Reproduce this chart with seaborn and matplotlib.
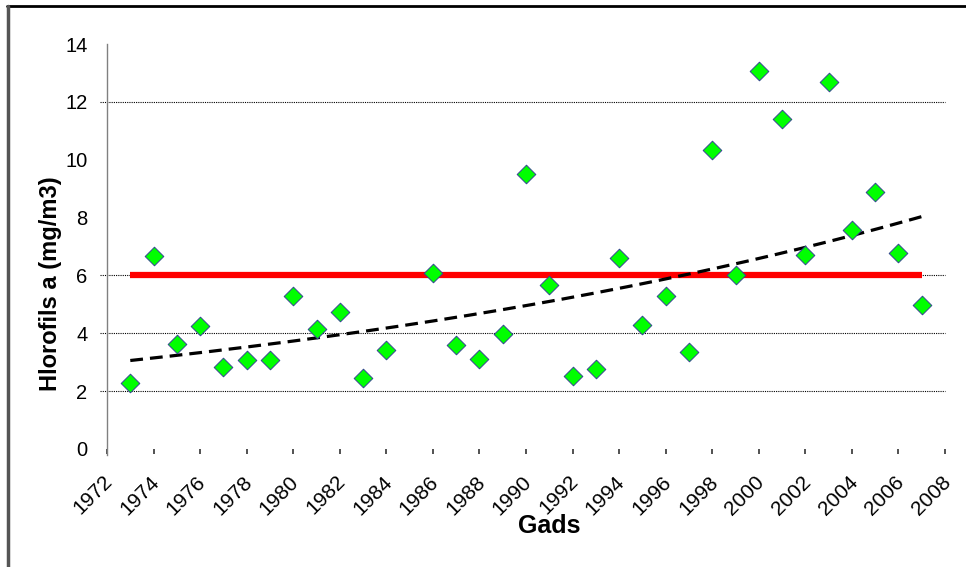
import numpy as np
import pandas as pd
import matplotlib
matplotlib.use("Agg")
import matplotlib.pyplot as plt
from matplotlib.lines import Line2D
from matplotlib.transforms import ScaledTranslation
import seaborn as sns

# Annual chlorophyll a measurements (mg/m3)
years = [1973, 1974, 1975, 1976, 1977, 1978, 1979, 1980, 1981, 1982,
         1983, 1984, 1986, 1987, 1988, 1989, 1990, 1991, 1992, 1993,
         1994, 1995, 1996, 1997, 1998, 1999, 2000, 2001, 2002, 2003,
         2004, 2005, 2006, 2007]
chlorophyll = [2.27, 6.68, 3.62, 4.24, 2.84, 3.07, 3.06, 5.30, 4.16, 4.73,
               2.45, 3.43, 6.07, 3.61, 3.10, 3.96, 9.52, 5.68, 2.54, 2.77,
               6.60, 4.30, 5.30, 3.34, 10.34, 6.00, 13.05, 11.40, 6.72, 12.69,
               7.56, 8.90, 6.78, 4.99]

# Reference threshold line
norm_years = [1973, 2007]
norm_value = [6, 6]

y_ticks = [0, 2, 4, 6, 8, 10, 12, 14]
grid_levels = [2, 4, 6, 12]
x_ticks = list(range(1972, 2009, 2))

sns.set_theme(style="white")
plt.rcParams["font.family"] = ["Liberation Sans", "DejaVu Sans"]

df = pd.DataFrame({"Gads": years, "Hlorofils": chlorophyll})

# Exponential trend fitted to the measurements
b, a = np.polyfit(df["Gads"], np.log(df["Hlorofils"]), 1)
trend = pd.DataFrame({"Gads": np.linspace(min(years), max(years), 200)})
trend["Hlorofils"] = np.exp(a + b * trend["Gads"])

fig = plt.figure(figsize=(9.66, 5.67), dpi=100)
ax = fig.add_axes([107 / 966, 118 / 567, (945 - 107) / 966, (449 - 44) / 567])

# dotted horizontal gridlines, extending slightly left of the axis
ax.hlines(grid_levels, 1971.7, 2008, colors="black", linestyles=(0, (1, 1)),
          linewidth=0.8, clip_on=False, zorder=1)

sns.lineplot(data=pd.DataFrame({"Gads": norm_years, "Hlorofils": norm_value}),
             x="Gads", y="Hlorofils", ax=ax, color="#ff0000", linewidth=4.5,
             solid_capstyle="butt", zorder=2)
sns.lineplot(data=trend, x="Gads", y="Hlorofils", ax=ax, color="black",
             linewidth=2.3, linestyle=(0, (4, 2.2)), zorder=3)
sns.scatterplot(data=df, x="Gads", y="Hlorofils", ax=ax, marker="D", s=90,
                color="#00ff00", edgecolor="#34478f", linewidth=0.7, zorder=4)

ax.set_xlim(1972, 2008)
ax.set_ylim(0, 14)
ax.set_yticks(y_ticks)
ax.set_yticklabels([str(v) for v in y_ticks], fontsize=14.5, color="black")
ax.set_xticks(x_ticks)
ax.set_xticklabels([str(v) for v in x_ticks], fontsize=15, color="black",
                   rotation=45, ha="right", va="top", rotation_mode="anchor")
ax.tick_params(axis="y", length=0, pad=14)
ax.tick_params(axis="x", length=3.6, width=1.2, color="#333333", direction="out",
               pad=13, bottom=True)
shift = ScaledTranslation(-4 / 100, 0, fig.dpi_scale_trans)
for lbl in ax.get_xticklabels():
    lbl.set_transform(lbl.get_transform() + shift)

for side in ["top", "right", "bottom"]:
    ax.spines[side].set_visible(False)
ax.spines["left"].set_color("#808080")
ax.spines["left"].set_linewidth(1.0)
ax.spines["left"].set_bounds(-0.2, 14)

ax.set_xlabel("Gads", fontsize=18, fontweight="bold", color="black",
              va="center")
ax.xaxis.set_label_coords((549 - 107) / 838, (449 - 526) / 405)
ax.set_ylabel("Hlorofils a (mg/m3)", fontsize=17, fontweight="bold",
              color="black", va="center")
ax.yaxis.set_label_coords((51 - 107) / 838, (449 - 284) / 405)

# outer frame lines along the top and left edges
fig.add_artist(Line2D([7 / 966, 1.0], [1 - 6 / 567, 1 - 6 / 567],
                      transform=fig.transFigure, color="black", linewidth=2))
fig.add_artist(Line2D([8 / 966, 8 / 966], [0, 1 - 6 / 567],
                      transform=fig.transFigure, color="#555555", linewidth=2.5))

fig.savefig("out.png", dpi=100)
